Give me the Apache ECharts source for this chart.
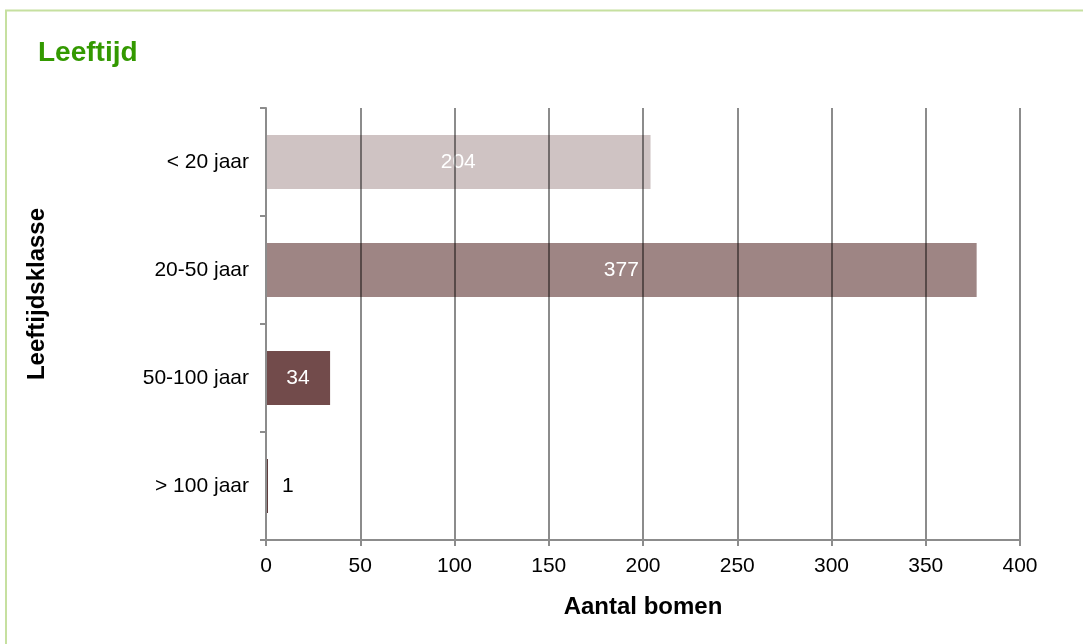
<!DOCTYPE html>
<html>
<head>
<meta charset="utf-8">
<script src="https://cdn.jsdelivr.net/npm/echarts@6/dist/echarts.min.js"></script>
<style>
  html, body { margin: 0; padding: 0; background: #fff; }
  #chart { width: 1083px; height: 644px; }
</style>
</head>
<body>
<div id="chart"></div>
<script>
// leeftijdsklassen, van boven naar beneden
var categories = ['< 20 jaar', '20-50 jaar', '50-100 jaar', '> 100 jaar']
var aantallen = [204, 377, 34, 1]
var barColors = ['#CFC3C3', '#9E8584', '#724B4B', '#4A2323']
var labelColors = ['#ffffff', '#ffffff', '#ffffff', '#000000']
var labelPositions = ['inside', 'inside', 'inside', 'right']
var xTicks = [0, 50, 100, 150, 200, 250, 300, 350, 400]

var font = '"Liberation Sans", Arial, sans-serif'

var chart = echarts.init(document.getElementById('chart'))

var barData = aantallen.map(function (v, i) {
  return {
    value: v,
    itemStyle: { color: barColors[i] },
    label: { color: labelColors[i], position: labelPositions[i] }
  }
})

chart.setOption({
  animation: false,
  textStyle: { fontFamily: font },
  title: {
    text: 'Leeftijd',
    left: 33,
    top: 34,
    textStyle: { color: '#339900', fontSize: 28, fontWeight: 'bold', fontFamily: font }
  },
  graphic: [
    {
      type: 'rect',
      shape: { x: 6, y: 10.5, width: 1200, height: 800 },
      style: { fill: 'none', stroke: '#C6E0A0', lineWidth: 2 },
      silent: true
    },
    {
      type: 'text',
      x: 37,
      y: 294,
      rotation: Math.PI / 2,
      style: {
        text: 'Leeftijdsklasse',
        fill: '#000',
        font: 'bold 24px ' + font,
        align: 'center',
        verticalAlign: 'middle'
      }
    }
  ],
  grid: {
    left: 266,
    right: 63,
    top: 108,
    bottom: 104,
    containLabel: false
  },
  xAxis: {
    type: 'value',
    min: xTicks[0],
    max: xTicks[xTicks.length - 1],
    interval: 50,
    z: 5,
    name: 'Aantal bomen',
    nameLocation: 'middle',
    nameGap: 55,
    nameTextStyle: { color: '#000', fontSize: 24, fontWeight: 'bold', fontFamily: font },
    axisLine: { show: true, lineStyle: { color: '#8C8C8C', width: 2 } },
    axisTick: { show: true, length: 6, lineStyle: { color: '#8C8C8C', width: 2 } },
    axisLabel: { color: '#000', fontSize: 21, margin: 16, fontFamily: font },
    splitLine: { show: true, lineStyle: { color: 'rgba(0,0,0,0.45)', width: 2 } }
  },
  yAxis: {
    type: 'category',
    data: categories,
    inverse: true,
    z: 5,
    axisLine: { show: true, lineStyle: { color: '#8C8C8C', width: 2 } },
    axisTick: { show: true, length: 6, lineStyle: { color: '#8C8C8C', width: 2 } },
    axisLabel: { color: '#000', fontSize: 21, margin: 17, fontFamily: font },
    splitLine: { show: false }
  },
  series: [{
    type: 'bar',
    z: 1,
    barWidth: '50%',
    data: barData,
    label: {
      show: true,
      fontSize: 21,
      fontFamily: font,
      distance: 14,
      formatter: '{c}'
    }
  }]
})
</script>
</body>
</html>
